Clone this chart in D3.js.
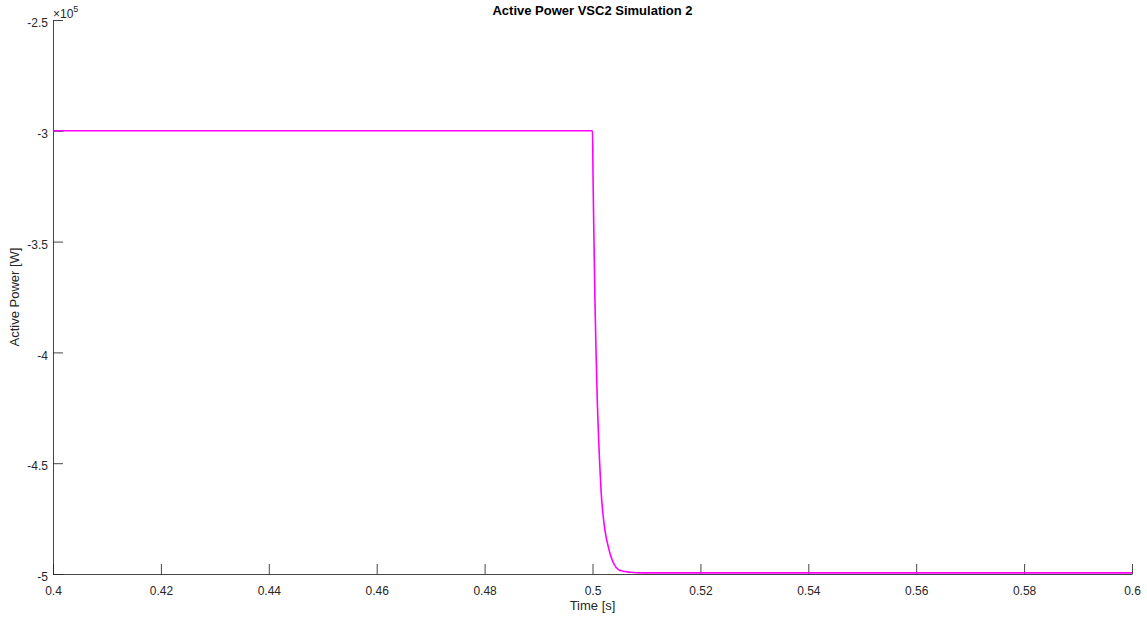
<!DOCTYPE html>
<html>
<head>
<meta charset="utf-8">
<script src="https://cdn.jsdelivr.net/npm/d3@7"></script>
<style>
  html, body { margin: 0; padding: 0; background: #fff; }
  svg { display: block; font-family: "Liberation Sans", Arial, Helvetica, sans-serif; }
</style>
</head>
<body>
<svg id="chart" width="1147" height="619"></svg>
<script>
// Simulated active power of VSC2 (W) against time (s): step from -3e5 W to -5e5 W at t = 0.5 s
const time = [0.4, 0.45, 0.5, 0.5001, 0.5002, 0.5003, 0.50045, 0.50065, 0.5009, 0.50115, 0.50135,
              0.5016, 0.5019, 0.5022, 0.5025, 0.5029, 0.5034, 0.504, 0.5048, 0.5058, 0.507, 0.5094,
              0.52, 0.54, 0.56, 0.58, 0.6];
const power = [-3.0e5, -3.0e5, -3.0e5, -3.2e5, -3.38e5, -3.53e5, -3.76e5, -3.99e5, -4.23e5, -4.40e5, -4.51e5,
               -4.63e5, -4.72e5, -4.784e5, -4.83e5, -4.874e5, -4.92e5, -4.956e5, -4.98e5, -4.988e5, -4.992e5, -4.995e5,
               -4.995e5, -4.995e5, -4.995e5, -4.995e5, -4.995e5];

const xTicks = [0.4, 0.42, 0.44, 0.46, 0.48, 0.5, 0.52, 0.54, 0.56, 0.58, 0.6];
const yTicks = [-2.5e5, -3e5, -3.5e5, -4e5, -4.5e5, -5e5];
const exponent = 5;

const svg = d3.select("#chart");
const margin = { left: 53, right: 15, top: 20, bottom: 45 };
const W = 1147, H = 619;
const x = d3.scaleLinear().domain([0.4, 0.6]).range([margin.left, W - margin.right]);
const y = d3.scaleLinear().domain([-5e5, -2.5e5]).range([H - margin.bottom, margin.top]);

const axisColor = "#262626";
const tickLen = 10;

// Clip path for the data line
svg.append("defs").append("clipPath").attr("id", "plotClip")
  .append("rect")
  .attr("x", x.range()[0]).attr("y", y.range()[1])
  .attr("width", x.range()[1] - x.range()[0])
  .attr("height", y.range()[0] - y.range()[1]);

// Bottom axis with inward ticks
const xAxis = d3.axisBottom(x).tickValues(xTicks).tickSizeInner(-tickLen).tickSizeOuter(0)
  .tickPadding(tickLen + 9).tickFormat(d => String(d));
const gx = svg.append("g").attr("transform", `translate(0,${y.range()[0]})`).call(xAxis);

// Left axis with inward ticks, labelled in units of 10^5
const yAxis = d3.axisLeft(y).tickValues(yTicks).tickSizeInner(-tickLen).tickSizeOuter(0)
  .tickPadding(5).tickFormat(d => String(+(d / Math.pow(10, exponent)).toFixed(2)));
const gy = svg.append("g").attr("transform", `translate(${x.range()[0]},0)`).call(yAxis);

[gx, gy].forEach(g => {
  g.select(".domain").attr("stroke", axisColor).attr("stroke-width", 1).attr("opacity", 0.85);
  g.selectAll(".tick line").attr("stroke", axisColor).attr("stroke-width", 1).attr("opacity", 0.85);
  g.selectAll(".tick text").attr("fill", axisColor).attr("font-size", 12)
    .attr("font-family", "Liberation Sans, Arial, sans-serif");
});
gy.selectAll(".tick text").attr("dy", "0.55em");
gx.selectAll(".tick text").attr("dy", "0.15em");

// Exponent marker above the y axis
const expLabel = svg.append("text")
  .attr("x", x.range()[0]).attr("y", y.range()[1] - 2)
  .attr("fill", axisColor).attr("font-size", 12);
expLabel.append("tspan").text("\u00d710");
expLabel.append("tspan").attr("font-size", 9).attr("dy", -6).text(exponent);

// Power trace
const line = d3.line().x((d, i) => x(time[i])).y(d => y(d)).curve(d3.curveMonotoneX);
svg.append("path")
  .datum(power)
  .attr("clip-path", "url(#plotClip)")
  .attr("fill", "none")
  .attr("stroke", "#ff00ff")
  .attr("stroke-width", 1.6)
  .attr("d", line);

// Title and axis labels
svg.append("text")
  .attr("x", (x.range()[0] + x.range()[1]) / 2).attr("y", 15)
  .attr("text-anchor", "middle").attr("font-weight", "bold").attr("font-size", 13)
  .attr("fill", "#000").text("Active Power VSC2 Simulation 2");

svg.append("text")
  .attr("x", (x.range()[0] + x.range()[1]) / 2).attr("y", 610)
  .attr("text-anchor", "middle").attr("font-size", 13)
  .attr("fill", axisColor).text("Time [s]");

svg.append("text")
  .attr("transform", `translate(19,${(y.range()[0] + y.range()[1]) / 2}) rotate(-90)`)
  .attr("text-anchor", "middle").attr("font-size", 13)
  .attr("fill", axisColor).text("Active Power [W]");
</script>
</body>
</html>
